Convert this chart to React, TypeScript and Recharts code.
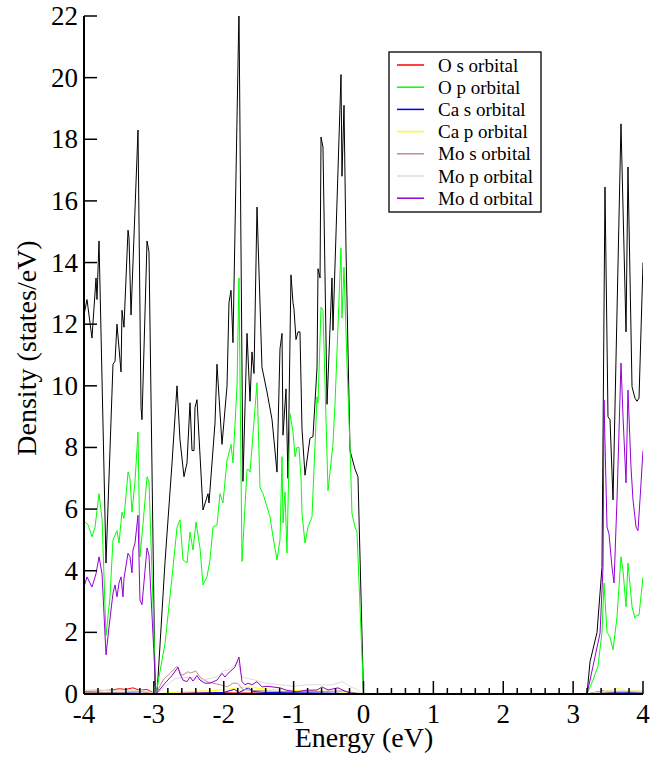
import { Label, Line, LineChart, XAxis, YAxis } from "recharts";

// total DOS (black, not in legend)
const totalEnergy = [
  -4.0, -3.957, -3.886, -3.828, -3.814, -3.785, -3.685, -3.585, -3.556, -3.528, -3.47, -3.456, -3.428,
  -3.37, -3.356, -3.327, -3.227, -3.184, -3.17, -3.098, -3.07, -2.984, -2.955, -2.84, -2.74, -2.669,
  -2.626, -2.569, -2.526, -2.483, -2.454, -2.426, -2.411, -2.383, -2.297, -2.225, -2.211, -2.125, -2.097,
  -2.025, -1.953, -1.925, -1.896, -1.868, -1.782, -1.725, -1.667, -1.624, -1.596, -1.567, -1.524, -1.453,
  -1.381, -1.309, -1.238, -1.195, -1.166, -1.152, -1.109, -1.081, -1.038, -1.009, -0.995, -0.966, -0.937,
  -0.909, -0.88, -0.837, -0.766, -0.723, -0.665, -0.651, -0.622, -0.608, -0.58, -0.522, -0.451, -0.437,
  -0.322, -0.308, -0.279, -0.25, -0.193, -0.122, -0.079, 0.0, 3.199, 3.242, 3.342, 3.413, 3.456, 3.499,
  3.528, 3.571, 3.685, 3.757, 3.785, 3.843, 3.885, 3.914, 3.943, 4.0,
];
const totalDensity = [
  12.3, 12.8, 11.55, 13.5, 12.8, 14.7, 4.25, 10.7, 10.8, 12.0, 10.45, 12.45, 11.9,
  15.05, 14.8, 12.3, 18.3, 9.3, 8.9, 14.7, 14.35, 0.3, 0, 4.3, 7.5, 10.0,
  8.25, 7.05, 7.5, 9.45, 7.9, 7.9, 9.3, 9.55, 5.97, 6.5, 6.2, 8.8, 10.7,
  8.1, 10.0, 12.7, 13.1, 11.4, 22.2, 6.9, 11.7, 9.5, 11.1, 10.4, 15.8, 10.6,
  9.8, 8.9, 7.2, 11.2, 11.7, 8.4, 9.9, 7.0, 13.6, 12.7, 12.5, 11.5, 11.75,
  11.75, 8.6, 7.1, 8.3, 8.35, 10.6, 13.8, 13.5, 18.07, 17.75, 9.4, 13.5, 11.8,
  20.1, 16.8, 19.1, 14.4, 7.9, 7.3, 7.05, 0, 0, 1.05, 2.0, 4.1, 16.45, 9.0,
  8.9, 6.3, 18.5, 11.75, 17.1, 9.97, 9.6, 9.5, 9.6, 14.0,
];

const osEnergy = [-4.0, -3.8, -3.6, -3.5, -3.4, -3.3, -3.2, -3.1, -3.0, -2.97, -2.5, -2.0, -1.0, 0.0, 3.2, 4.0];
const osDensity = [0.08, 0.1, 0.13, 0.17, 0.15, 0.2, 0.12, 0.15, 0.03, 0, 0.03, 0.04, 0.02, 0, 0, 0.02];

const opEnergy = [
  -4.0, -3.943, -3.886, -3.843, -3.785, -3.742, -3.685, -3.628, -3.585, -3.528, -3.499, -3.456, -3.428,
  -3.37, -3.342, -3.313, -3.27, -3.227, -3.199, -3.156, -3.098, -3.07, -2.97, -2.84, -2.74, -2.669,
  -2.626, -2.583, -2.526, -2.483, -2.44, -2.397, -2.34, -2.297, -2.24, -2.197, -2.154, -2.097, -2.054,
  -2.011, -1.953, -1.939, -1.896, -1.868, -1.81, -1.782, -1.739, -1.667, -1.653, -1.624, -1.524, -1.481,
  -1.438, -1.338, -1.295, -1.238, -1.195, -1.166, -1.152, -1.123, -1.095, -1.052, -1.009, -0.98, -0.952,
  -0.923, -0.894, -0.88, -0.837, -0.794, -0.737, -0.665, -0.651, -0.608, -0.58, -0.508, -0.437, -0.408,
  -0.322, -0.308, -0.279, -0.236, -0.193, -0.165, -0.122, -0.093, 0.0, 3.199, 3.284, 3.356, 3.413, 3.442,
  3.485, 3.528, 3.571, 3.628, 3.685, 3.714, 3.757, 3.785, 3.843, 3.885, 3.914, 3.943, 4.0,
];
const opDensity = [
  5.6, 5.5, 5.1, 5.4, 6.5, 5.7, 1.9, 3.15, 5.0, 5.3, 4.9, 5.9, 5.7,
  7.2, 7.0, 5.9, 6.9, 8.5, 4.45, 5.5, 7.05, 6.9, 0, 1.65, 3.8, 5.4,
  5.65, 4.35, 4.25, 5.25, 4.67, 5.58, 4.74, 3.54, 3.8, 4.35, 5.42, 5.48, 6.5,
  6.2, 7.6, 7.7, 8.1, 7.5, 10.0, 13.5, 4.3, 7.27, 7.3, 7.2, 10.1, 6.7,
  6.5, 5.75, 5.1, 4.35, 5.0, 7.7, 5.55, 6.55, 4.57, 9.1, 8.5, 7.7, 8.0,
  8.0, 7.0, 5.86, 4.9, 5.42, 5.75, 9.64, 9.44, 12.55, 12.45, 6.6, 8.1, 9.4,
  14.47, 12.2, 13.85, 10.7, 8.0, 5.86, 5.42, 5.26, 0, 0, 0.45, 0.9, 2.0, 3.6,
  2.0, 1.85, 1.43, 2.5, 4.45, 4.0, 2.83, 4.25, 2.83, 2.46, 2.56, 2.56, 3.8,
];

const casEnergy = [-4.0, -3.6, -3.3, -3.0, -2.97, -2.5, -2.0, -1.85, -1.78, -1.65, -1.58, -1.4, -1.0, -0.5, 0.0, 3.2, 3.42, 3.5, 3.7, 4.0];
const casDensity = [0.03, 0.05, 0.03, 0.01, 0, 0.02, 0.05, 0.15, 0.05, 0.2, 0.08, 0.05, 0.04, 0.03, 0, 0, 0.1, 0.05, 0.06, 0.04];

const capEnergy = [-4.0, -3.8, -3.6, -3.4, -3.2, -3.0, -2.97, -2.6, -2.2, -1.95, -1.8, -1.6, -1.5, -1.3, -1.0, -0.7, -0.4, -0.2, 0.0, 3.2, 3.4, 3.55, 3.65, 3.75, 4.0];
const capDensity = [0.13, 0.15, 0.08, 0.12, 0.1, 0.02, 0, 0.08, 0.1, 0.15, 0.2, 0.23, 0.18, 0.15, 0.12, 0.1, 0.08, 0.05, 0, 0, 0.08, 0.12, 0.18, 0.1, 0.1];

const mosEnergy = [
  -4.0, -3.5, -3.2, -3.0, -2.97, -2.87, -2.77, -2.67, -2.6, -2.51, -2.47, -2.4, -2.34, -2.24, -2.15,
  -2.05, -1.95, -1.87, -1.8, -1.73, -1.6, -1.2, -0.6, -0.3, 0.0, 3.2, 3.45, 3.7, 4.0,
];
const mosDensity = [
  0.05, 0.05, 0.08, 0.02, 0, 0.45, 0.67, 0.9, 0.6, 0.72, 0.68, 0.75, 0.55, 0.4, 0.35,
  0.3, 0.23, 0.35, 0.35, 0.15, 0.12, 0.08, 0.08, 0.1, 0, 0, 0.05, 0.08, 0.05,
];

const mopEnergy = [
  -4.0, -3.5, -3.1, -2.97, -2.7, -2.5, -2.3, -2.1, -2.0, -1.9, -1.8, -1.74, -1.65, -1.55, -1.4,
  -1.2, -1.0, -0.8, -0.6, -0.45, -0.3, -0.2, -0.1, 0.0, 3.2, 3.5, 4.0,
];
const mopDensity = [
  0.1, 0.12, 0.1, 0, 0.5, 0.55, 0.45, 0.55, 0.75, 0.8, 1.05, 0.55, 0.5, 0.45, 0.35,
  0.3, 0.25, 0.3, 0.3, 0.3, 0.4, 0.25, 0.15, 0, 0, 0.1, 0.1,
];

const modEnergy = [
  -4.0, -3.957, -3.886, -3.828, -3.785, -3.742, -3.685, -3.642, -3.585, -3.556, -3.528, -3.499, -3.47,
  -3.442, -3.428, -3.37, -3.342, -3.313, -3.299, -3.27, -3.227, -3.199, -3.17, -3.098, -3.07, -2.97,
  -2.84, -2.74, -2.655, -2.626, -2.583, -2.526, -2.483, -2.44, -2.383, -2.34, -2.268, -2.197, -2.097,
  -2.025, -1.982, -1.939, -1.882, -1.839, -1.782, -1.739, -1.696, -1.653, -1.596, -1.524, -1.453, -1.381,
  -1.195, -1.1, -0.952, -0.837, -0.665, -0.594, -0.508, -0.365, -0.293, -0.193, 0.0, 3.199, 3.284, 3.385,
  3.428, 3.442, 3.485, 3.513, 3.556, 3.585, 3.628, 3.685, 3.714, 3.757, 3.785, 3.828, 3.857, 3.9, 3.928,
  3.957, 4.0,
];
const modDensity = [
  3.47, 3.8, 3.47, 3.9, 4.45, 3.9, 1.27, 2.17, 3.27, 3.54, 3.15, 3.6, 3.8,
  3.15, 3.75, 4.57, 4.45, 3.93, 4.67, 4.9, 5.8, 3.05, 2.9, 4.74, 4.5, 0,
  0.35, 0.6, 0.87, 0.65, 0.45, 0.4, 0.55, 0.42, 0.6, 0.45, 0.35, 0.35, 0.45,
  0.67, 0.55, 0.67, 0.78, 0.88, 1.2, 0.4, 0.3, 0.35, 0.3, 0.4, 0.23, 0.25,
  0.2, 0.12, 0.07, 0.12, 0.13, 0.23, 0.13, 0.2, 0.12, 0.03, 0, 0, 0.9, 1.97,
  4.1, 9.54, 5.42, 5.2, 4.12, 3.6, 6.3, 10.74, 9.0, 6.85, 9.86, 7.37, 6.3, 5.42, 5.3,
  6.3, 7.9,
];

const energyLabels = [-4, -3, -2, -1, 0, 1, 2, 3, 4];
const densityLabels = [0, 2, 4, 6, 8, 10, 12, 14, 16, 18, 20, 22];
const energyTicks = Array.from({ length: 41 }, (_, i) => Math.round((-4 + i * 0.2) * 10) / 10);

type Series = { name: string; energy: number[]; density: number[]; color: string; legend: boolean };

const series: Series[] = [
  { name: "Total", energy: totalEnergy, density: totalDensity, color: "#000000", legend: false },
  { name: "O s orbital", energy: osEnergy, density: osDensity, color: "#ff0000", legend: true },
  { name: "O p orbital", energy: opEnergy, density: opDensity, color: "#00ff00", legend: true },
  { name: "Ca s orbital", energy: casEnergy, density: casDensity, color: "#0000ff", legend: true },
  { name: "Ca p orbital", energy: capEnergy, density: capDensity, color: "#ffff00", legend: true },
  { name: "Mo s orbital", energy: mosEnergy, density: mosDensity, color: "#bc8f8f", legend: true },
  { name: "Mo p orbital", energy: mopEnergy, density: mopDensity, color: "#dcdcdc", legend: true },
  { name: "Mo d orbital", energy: modEnergy, density: modDensity, color: "#9400d3", legend: true },
];

const toPoints = (energy: number[], density: number[]) =>
  energy.map((x, i) => ({ x, y: density[i] }));

const FONT = '"Liberation Serif", "Times New Roman", serif';
const textStyle = (size: number) => ({ fontFamily: FONT, fontSize: size, fill: "#000" });
const isMajor = (v: number) => energyLabels.includes(v);

const BottomTick = ({ x, y, payload }: any) => {
  const major = isMajor(payload.value);
  return (
    <g>
      <line x1={x} y1={y} x2={x} y2={y - (major ? 13 : 6)} stroke="#000" strokeWidth={1.5} />
      {major && (
        <text x={x} y={y + 29} textAnchor="middle" style={textStyle(27)}>
          {payload.value}
        </text>
      )}
    </g>
  );
};

const TopTick = ({ x, y, payload }: any) => (
  <line x1={x} y1={y} x2={x} y2={y + (isMajor(payload.value) ? 13 : 6)} stroke="#000" strokeWidth={1.5} />
);

const LeftTick = ({ x, y, payload }: any) => (
  <g>
    <line x1={x} y1={y} x2={x + 13} y2={y} stroke="#000" strokeWidth={1.5} />
    <text x={x - 6} y={y + 9} textAnchor="end" style={textStyle(27)}>
      {payload.value}
    </text>
  </g>
);

const RightTick = ({ x, y }: any) => (
  <line x1={x} y1={y} x2={x - 13} y2={y} stroke="#000" strokeWidth={1.5} />
);

const axisLine = { stroke: "#000", strokeWidth: 2 };

const LegendBox = () => {
  const items = series.filter((s) => s.legend);
  return (
    <svg
      width={154}
      height={162}
      style={{ position: "absolute", left: 388, top: 51, overflow: "visible" }}
    >
      <rect x={1} y={1} width={152} height={160} fill="#fff" stroke="#222" strokeWidth={1.5} />
      {items.map((s, i) => {
        const cy = 14 + i * 22.2;
        return (
          <g key={s.name}>
            <line x1={9} y1={cy} x2={36} y2={cy} stroke={s.color} strokeWidth={1.5} />
            <text x={50} y={cy + 6.5} style={textStyle(19)}>
              {s.name}
            </text>
          </g>
        );
      })}
    </svg>
  );
};

export default function App() {
  return (
    <div style={{ position: "absolute", left: 0, top: 0, width: 664, height: 757, background: "#fff" }}>
      <LineChart width={664} height={757} margin={{ top: 16, right: 21, bottom: 0, left: 0 }}>
        <XAxis
          xAxisId="bottom"
          dataKey="x"
          type="number"
          domain={[-4, 4]}
          allowDataOverflow
          ticks={energyTicks}
          interval={0}
          height={63}
          tickLine={false}
          tickSize={0}
          tickMargin={0}
          axisLine={axisLine}
          tick={BottomTick}
        >
          <Label
            content={() => (
              <text x={364} y={747} textAnchor="middle" style={textStyle(28)}>
                Energy (eV)
              </text>
            )}
          />
        </XAxis>
        <XAxis
          xAxisId="top"
          orientation="top"
          dataKey="x"
          type="number"
          domain={[-4, 4]}
          allowDataOverflow
          ticks={energyTicks}
          interval={0}
          height={0}
          tickLine={false}
          tickSize={0}
          tickMargin={0}
          axisLine={axisLine}
          tick={TopTick}
        />
        <YAxis
          yAxisId="left"
          type="number"
          domain={[0, 22]}
          allowDataOverflow
          ticks={densityLabels}
          interval={0}
          width={84}
          tickLine={false}
          tickSize={0}
          tickMargin={0}
          axisLine={axisLine}
          tick={LeftTick}
        >
          <Label
            content={() => (
              <text
                x={36}
                y={348}
                transform="rotate(-90 36 348)"
                textAnchor="middle"
                style={textStyle(28)}
              >
                Density (states/eV)
              </text>
            )}
          />
        </YAxis>
        <YAxis
          yAxisId="right"
          orientation="right"
          type="number"
          domain={[0, 22]}
          allowDataOverflow
          ticks={densityLabels}
          interval={0}
          width={0}
          tickLine={false}
          tickSize={0}
          tickMargin={0}
          axisLine={axisLine}
          tick={RightTick}
        />
        {series.map((s) => (
          <Line
            key={s.name}
            xAxisId="bottom"
            yAxisId="left"
            data={toPoints(s.energy, s.density)}
            dataKey="y"
            type="linear"
            stroke={s.color}
            strokeWidth={1}
            dot={false}
            activeDot={false}
            legendType="none"
            isAnimationActive={false}
          />
        ))}
      </LineChart>
      <LegendBox />
    </div>
  );
}
